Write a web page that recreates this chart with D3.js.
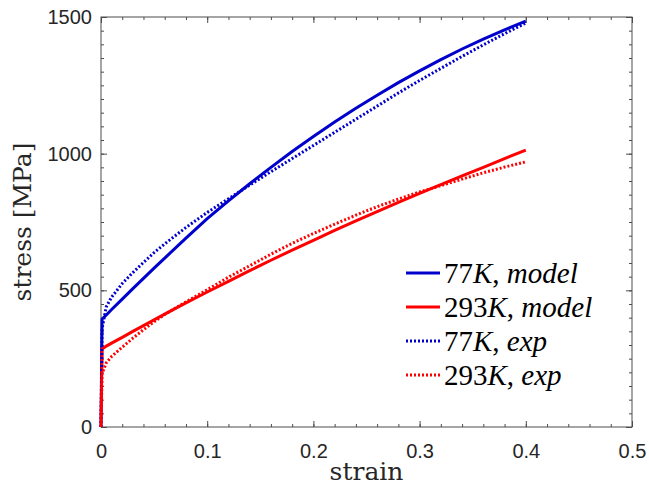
<!DOCTYPE html>
<html>
<head>
<meta charset="utf-8">
<script src="https://cdn.jsdelivr.net/npm/d3@7"></script>
<style>
  body { margin: 0; background: #fff; }
  svg { display: block; }
  .tick text { font-family: "Liberation Sans", Arial, sans-serif; font-size: 20px; fill: #262626; }
  .lab { font-family: "DejaVu Serif", serif; font-size: 25px; fill: #262626; }
  .leg { font-family: "Liberation Serif", serif; font-size: 29px; fill: #000; }
</style>
</head>
<body>
<svg width="649" height="490"></svg>
<script>
// strain values shared by all curves
const strain = [0, 0.001, 0.005, 0.01, 0.02, 0.03, 0.04, 0.05, 0.06, 0.08, 0.1, 0.12, 0.14, 0.16, 0.18,
  0.2, 0.22, 0.24, 0.26, 0.28, 0.3, 0.32, 0.34, 0.36, 0.38, 0.4];

// stress [MPa]
const model77 = [0, 395, 410, 430, 468, 506, 544, 581, 618, 691, 762, 827, 890, 950, 1008,
  1063, 1116, 1166, 1214, 1260, 1303, 1344, 1383, 1419, 1453, 1485];
const model293 = [0, 285, 296, 307, 328, 350, 371, 392, 413, 454, 494, 533, 572, 610, 647,
  683, 719, 754, 788, 822, 855, 887, 919, 950, 982, 1013];
const exp77 = [0, 360, 440, 475, 525, 565, 602, 638, 670, 730, 785, 835, 885, 934, 982,
  1030, 1078, 1126, 1174, 1222, 1268, 1312, 1356, 1398, 1439, 1478];
const exp293 = [0, 195, 235, 258, 292, 325, 356, 385, 412, 458, 502, 548, 590, 632, 672,
  708, 742, 775, 806, 834, 860, 883, 907, 930, 951, 970];

const xTicks = [0, 0.1, 0.2, 0.3, 0.4, 0.5];
const yTicks = [0, 500, 1000, 1500];

const series = [
  { name: ["77", "K", ", ", "model"], values: model77, color: "#0000cc", dash: null },
  { name: ["293", "K", ", ", "model"], values: model293, color: "#ff0000", dash: null },
  { name: ["77", "K", ", ", "exp"], values: exp77, color: "#0000cc", dash: "2,2" },
  { name: ["293", "K", ", ", "exp"], values: exp293, color: "#ff0000", dash: "2,2" }
];

const svg = d3.select("svg");
const margin = { left: 101, right: 17, top: 17, bottom: 63 };
const width = +svg.attr("width") - margin.left - margin.right;
const height = +svg.attr("height") - margin.top - margin.bottom;

const g = svg.append("g")
  .attr("transform", "translate(" + margin.left + "," + margin.top + ")");

const x = d3.scaleLinear().domain([0, 0.5]).range([0, width]);
const y = d3.scaleLinear().domain([0, 1500]).range([height, 0]);

const axisColor = "#4d4d4d";

// minor ticks
const xMinor = d3.range(0, 0.5001, 0.02);
const yMinor = d3.range(0, 1500.1, 50);

function drawAxis(axis, tr) {
  const a = g.append("g").attr("transform", tr).call(axis);
  a.select(".domain").remove();
  a.selectAll("line").attr("stroke", axisColor);
  return a;
}

drawAxis(d3.axisBottom(x).tickValues(xMinor).tickSize(-3).tickFormat(""), "translate(0," + height + ")");
drawAxis(d3.axisTop(x).tickValues(xMinor).tickSize(-3).tickFormat(""), "translate(0,0)");
drawAxis(d3.axisLeft(y).tickValues(yMinor).tickSize(-3).tickFormat(""), "translate(0,0)");
drawAxis(d3.axisRight(y).tickValues(yMinor).tickSize(-3).tickFormat(""), "translate(" + width + ",0)");

drawAxis(d3.axisBottom(x).tickValues(xTicks).tickSize(-6).tickPadding(17).tickFormat(d3.format("")), "translate(0," + height + ")");
drawAxis(d3.axisTop(x).tickValues(xTicks).tickSize(-6).tickFormat(""), "translate(0,0)");
drawAxis(d3.axisLeft(y).tickValues(yTicks).tickSize(-6).tickPadding(9).tickFormat(d3.format("d")), "translate(0,0)");
drawAxis(d3.axisRight(y).tickValues(yTicks).tickSize(-6).tickFormat(""), "translate(" + width + ",0)");

// box
g.append("rect")
  .attr("width", width)
  .attr("height", height)
  .attr("fill", "none")
  .attr("stroke", axisColor)
  .attr("stroke-width", 1);

const line = d3.line()
  .x(function(d, i) { return x(strain[i]); })
  .y(function(d) { return y(d); });

g.selectAll(".curve")
  .data(series)
  .enter()
  .append("path")
  .attr("class", "curve")
  .attr("fill", "none")
  .attr("stroke", function(d) { return d.color; })
  .attr("stroke-width", 3)
  .attr("stroke-dasharray", function(d) { return d.dash; })
  .attr("d", function(d) { return line(d.values); });

// axis labels
svg.append("text")
  .attr("class", "lab")
  .attr("x", margin.left + width / 2)
  .attr("y", 480)
  .attr("text-anchor", "middle")
  .text("strain");

svg.append("text")
  .attr("class", "lab")
  .attr("transform", "translate(31," + (margin.top + height / 2) + ") rotate(-90)")
  .attr("text-anchor", "middle")
  .text("stress [MPa]");

// legend
const leg = svg.append("g").attr("transform", "translate(406,273)");
const row = leg.selectAll(".row")
  .data(series)
  .enter()
  .append("g")
  .attr("transform", function(d, i) { return "translate(0," + i * 34 + ")"; });

row.append("line")
  .attr("x1", 0)
  .attr("x2", 34)
  .attr("stroke", function(d) { return d.color; })
  .attr("stroke-width", 3)
  .attr("stroke-dasharray", function(d) { return d.dash; });

const t = row.append("text")
  .attr("class", "leg")
  .attr("x", 38)
  .attr("y", 10);
t.append("tspan").text(function(d) { return d.name[0]; });
t.append("tspan").attr("font-style", "italic").text(function(d) { return d.name[1]; });
t.append("tspan").text(function(d) { return d.name[2]; });
t.append("tspan").attr("font-style", "italic").text(function(d) { return d.name[3]; });
</script>
</body>
</html>
